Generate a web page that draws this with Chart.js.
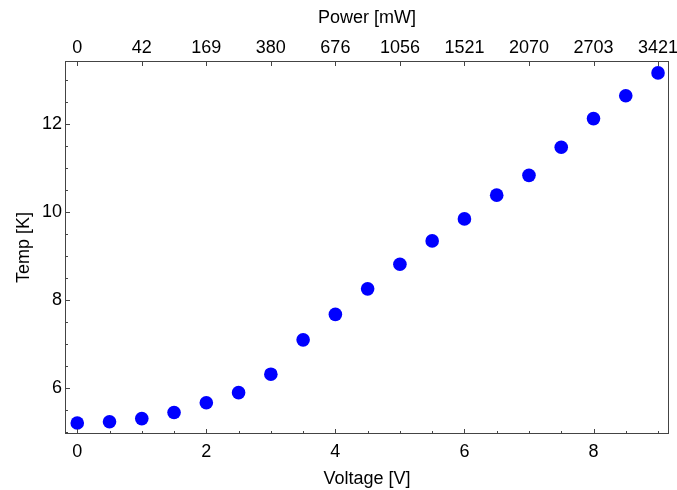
<!DOCTYPE html>
<html>
<head>
<meta charset="utf-8">
<script src="https://cdn.jsdelivr.net/npm/chart.js@4"></script>
<style>
  html, body { margin: 0; padding: 0; background: #fff; }
  #wrap { width: 677px; height: 490px; }
</style>
</head>
<body>
<div id="wrap"><canvas id="tempChart"></canvas></div>
<script>
// Datos
const voltage = [0, 0.5, 1, 1.5, 2, 2.5, 3, 3.5, 4, 4.5, 5, 5.5, 6, 6.5, 7, 7.5, 8, 8.5, 9];
const temp = [5.20, 5.23, 5.30, 5.44, 5.66, 5.89, 6.31, 7.09, 7.67, 8.25, 8.81, 9.34, 9.84, 10.38, 10.83, 11.47, 12.12, 12.64, 13.16];
const voltageTicks = [0, 2, 4, 6, 8];
const tempTicks = [6, 8, 10, 12];
const powerTickPos = [0, 1, 2, 3, 4, 5, 6, 7, 8, 9];
const powerLabels = ['0', '42', '169', '380', '676', '1056', '1521', '2070', '2703', '3421'];

const FONT = { family: 'Liberation Sans, Arial, sans-serif', size: 18 };
const X_MIN = -0.19, X_MAX = 9.17;
const Y_MIN = 4.95, Y_MAX = 13.43;

// Ticks hacia dentro y marco, al estilo Mathematica
const frameTicks = {
    id: 'frameTicks',
    afterDraw(chart) {
        const { ctx, chartArea: a } = chart;
        const x = chart.scales.x, y = chart.scales.y, x2 = chart.scales.x2;
        ctx.save();
        ctx.strokeStyle = '#444';
        ctx.lineWidth = 1;
        ctx.strokeRect(a.left + 0.5, a.top + 0.5, a.right - a.left - 1, a.bottom - a.top - 1);

        ctx.beginPath();
        // eje inferior: mayores cada 2, menores cada 0.5
        for (let v = 0; v <= 9; v += 0.5) {
            const px = Math.round(x.getPixelForValue(v)) + 0.5;
            const len = voltageTicks.includes(v) ? 5 : 3;
            ctx.moveTo(px, a.bottom);
            ctx.lineTo(px, a.bottom - len);
        }
        // eje superior: potencia
        powerTickPos.forEach(v => {
            const px = Math.round(x2.getPixelForValue(v)) + 0.5;
            ctx.moveTo(px, a.top);
            ctx.lineTo(px, a.top + 5);
        });
        // eje izquierdo
        for (let v = 5; v <= 13; v += 0.5) {
            const py = Math.round(y.getPixelForValue(v)) + 0.5;
            const len = tempTicks.includes(v) ? 5 : 3;
            ctx.moveTo(a.left, py);
            ctx.lineTo(a.left + len, py);
        }
        ctx.stroke();
        ctx.restore();
    }
};

function noSidePadding(s) {
    s.paddingLeft = 0;
    s.paddingRight = 0;
}

function initializeChart() {
    const ctx = document.getElementById('tempChart').getContext('2d');
    new Chart(ctx, {
        type: 'scatter',
        data: {
            datasets: [{
                data: voltage.map((v, i) => ({ x: v, y: temp[i] })),
                backgroundColor: '#0000ff',
                borderColor: '#0000ff',
                pointRadius: 6.8,
                pointHoverRadius: 6.8,
                borderWidth: 0
            }]
        },
        options: {
            responsive: true,
            maintainAspectRatio: false,
            animation: false,
            layout: { padding: { left: 0, right: 8, top: 0, bottom: 0 } },
            plugins: {
                legend: { display: false },
                tooltip: { enabled: false }
            },
            scales: {
                x: {
                    type: 'linear',
                    position: 'bottom',
                    min: X_MIN,
                    max: X_MAX,
                    afterBuildTicks: s => { s.ticks = voltageTicks.map(v => ({ value: v })); },
                    afterFit: s => { s.height = 56; noSidePadding(s); },
                    grid: { display: false, drawTicks: false },
                    border: { display: false },
                    ticks: { color: '#000', font: FONT, padding: 7, maxRotation: 0 },
                    title: { display: true, text: 'Voltage [V]', color: '#000', font: FONT, padding: { top: 2, bottom: 0 } }
                },
                x2: {
                    type: 'linear',
                    position: 'top',
                    min: X_MIN,
                    max: X_MAX,
                    afterBuildTicks: s => { s.ticks = powerTickPos.map(v => ({ value: v })); },
                    afterFit: s => { s.height = 61; noSidePadding(s); },
                    grid: { display: false, drawTicks: false },
                    border: { display: false },
                    ticks: {
                        color: '#000', font: FONT, padding: 2, maxRotation: 0, autoSkip: false,
                        callback: (val, idx) => powerLabels[idx]
                    },
                    title: { display: true, text: 'Power [mW]', color: '#000', font: FONT, padding: { top: 7, bottom: 0 } }
                },
                y: {
                    type: 'linear',
                    position: 'left',
                    min: Y_MIN,
                    max: Y_MAX,
                    afterBuildTicks: s => { s.ticks = tempTicks.map(v => ({ value: v })); },
                    afterFit: s => { s.width = 65; s.paddingTop = 0; s.paddingBottom = 0; },
                    grid: { display: false, drawTicks: false },
                    border: { display: false },
                    ticks: { color: '#000', font: FONT, padding: 3 },
                    title: { display: true, text: 'Temp [K]', color: '#000', font: FONT, padding: { top: 13, bottom: 0 } }
                }
            }
        },
        plugins: [frameTicks]
    });
}

document.addEventListener('DOMContentLoaded', initializeChart);
</script>
</body>
</html>
